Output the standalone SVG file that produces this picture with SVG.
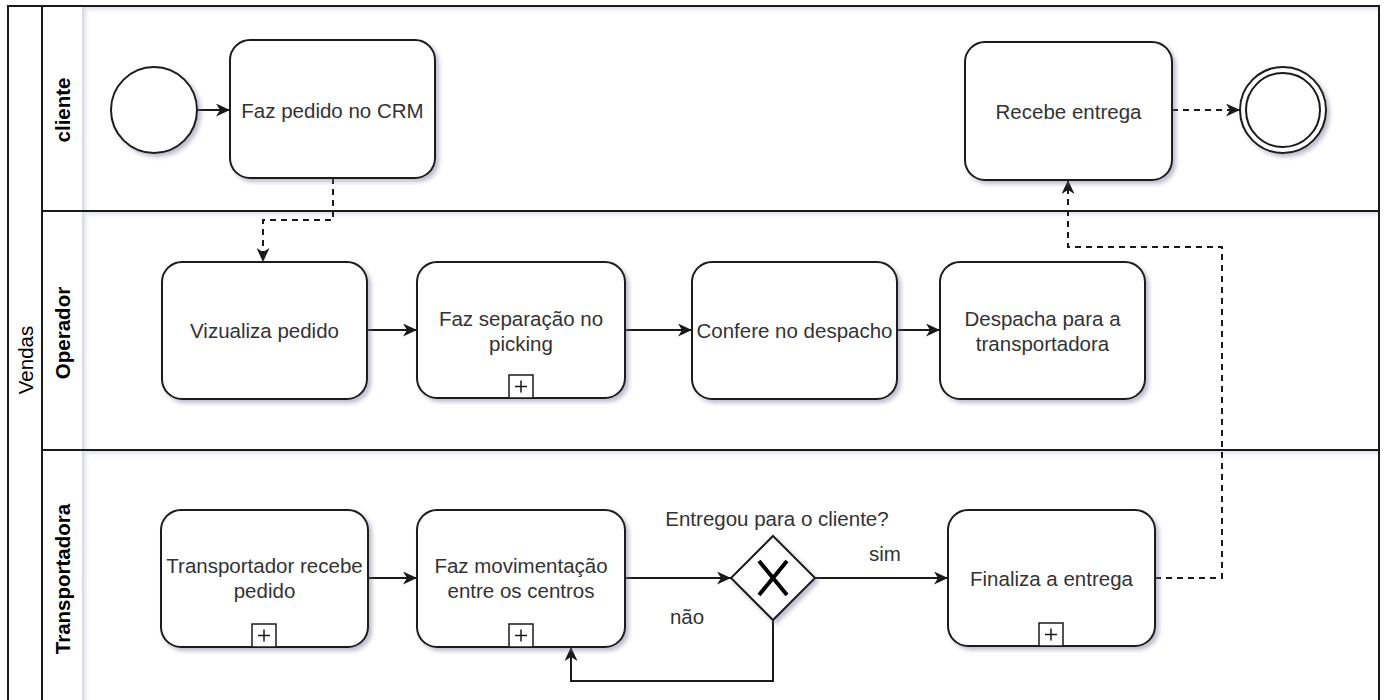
<svg xmlns="http://www.w3.org/2000/svg" width="1384" height="700" viewBox="0 0 1384 700">
  <style>
    .task { fill: #ffffff; stroke: #1a1a1a; stroke-width: 2; filter: url(#shadow); }
    .txt { font-family: "Liberation Sans", Arial, sans-serif; font-size: 20.5px; fill: #333333; text-anchor: middle; dominant-baseline: central; }
    .lbl { font-family: "Liberation Sans", Arial, sans-serif; font-size: 20.5px; fill: #000000; text-anchor: middle; dominant-baseline: central; }
    .bold { font-weight: bold; }
    .flow { fill: none; stroke: #1a1a1a; stroke-width: 2; }
    .dashed { stroke-dasharray: 6 5; }
    .sep { stroke: #1a1a1a; stroke-width: 2; fill: none; }
    .marker { fill: #ffffff; stroke: #1a1a1a; stroke-width: 1.5; }
  </style>
  <defs>
    <filter id="shadow" x="-10%" y="-10%" width="130%" height="130%">
      <feDropShadow dx="3" dy="3" stdDeviation="2.2" flood-color="#6a6a90" flood-opacity="0.45"/>
    </filter>
    <linearGradient id="vshade" x1="0" y1="0" x2="1" y2="0">
      <stop offset="0" stop-color="#cfd1e2"/>
      <stop offset="1" stop-color="#ffffff" stop-opacity="0"/>
    </linearGradient>
    <linearGradient id="hshade" x1="0" y1="0" x2="0" y2="1">
      <stop offset="0" stop-color="#dcdeea"/>
      <stop offset="1" stop-color="#ffffff" stop-opacity="0"/>
    </linearGradient>
    <marker id="arrow" markerUnits="userSpaceOnUse" markerWidth="15" markerHeight="13" refX="14" refY="6.5" orient="auto">
      <path d="M0,0 L14,6.5 L0,13 L4,6.5 Z" fill="#1a1a1a"/>
    </marker>
  </defs>

  <rect x="0" y="0" width="1384" height="700" fill="#ffffff"/>

  <g id="pool">
    <rect x="8" y="6" width="1371" height="704" fill="#ffffff" stroke="#1a1a1a" stroke-width="2"/>
    <rect x="84" y="7" width="1294" height="8" fill="url(#hshade)"/>
    <rect x="84" y="212" width="1294" height="8" fill="url(#hshade)"/>
    <rect x="84" y="451" width="1294" height="8" fill="url(#hshade)"/>
    <rect x="82" y="7" width="9" height="700" fill="url(#vshade)"/>
    <line class="sep" x1="42" y1="6" x2="42" y2="710"/>
    <line class="sep" x1="42" y1="211" x2="1379" y2="211"/>
    <line class="sep" x1="42" y1="450" x2="1379" y2="450"/>
    <text class="lbl" transform="translate(25,360) rotate(-90)">Vendas</text>
  </g>

  <g id="lane-cliente">
    <text class="lbl bold" transform="translate(62,110) rotate(-90)">cliente</text>
  </g>
  <g id="lane-operador">
    <text class="lbl bold" transform="translate(62,333) rotate(-90)">Operador</text>
  </g>
  <g id="lane-transportadora">
    <text class="lbl bold" transform="translate(62,579) rotate(-90)">Transportadora</text>
  </g>

  <g id="connectors">
    <line class="flow" x1="197" y1="110" x2="230" y2="110" marker-end="url(#arrow)"/>
    <polyline class="flow dashed" points="333,178 333,220 263,220 263,262" marker-end="url(#arrow)"/>
    <line class="flow dashed" x1="1172" y1="110" x2="1240" y2="110" marker-end="url(#arrow)"/>
    <line class="flow" x1="367" y1="330" x2="417" y2="330" marker-end="url(#arrow)"/>
    <line class="flow" x1="625" y1="330" x2="692" y2="330" marker-end="url(#arrow)"/>
    <line class="flow" x1="897" y1="330" x2="940" y2="330" marker-end="url(#arrow)"/>
    <line class="flow" x1="368" y1="578" x2="417" y2="578" marker-end="url(#arrow)"/>
    <line class="flow" x1="625" y1="578" x2="731" y2="578" marker-end="url(#arrow)"/>
    <line class="flow" x1="815" y1="578" x2="948" y2="578" marker-end="url(#arrow)"/>
    <polyline class="flow" points="773,620 773,681 571,681 571,647" marker-end="url(#arrow)"/>
    <polyline class="flow dashed" points="1155,578 1222,578 1222,247 1068,247 1068,180" marker-end="url(#arrow)"/>
    <text class="txt" x="885" y="553">sim</text>
    <text class="txt" x="687" y="616">não</text>
  </g>

  <g id="start">
    <circle cx="154" cy="110" r="43" fill="#ffffff" stroke="#1a1a1a" stroke-width="2" filter="url(#shadow)"/>
  </g>

  <g id="faz-pedido">
    <rect class="task" x="230" y="40" width="205" height="138" rx="20"/>
    <text class="txt" x="332.5" y="110">Faz pedido no CRM</text>
  </g>

  <g id="recebe-entrega">
    <rect class="task" x="965" y="42" width="207" height="138" rx="20"/>
    <text class="txt" x="1068.5" y="111">Recebe entrega</text>
  </g>

  <g id="end">
    <circle cx="1283" cy="110" r="43" fill="#ffffff" stroke="#1a1a1a" stroke-width="2" filter="url(#shadow)"/>
    <circle cx="1283" cy="110" r="37" fill="#ffffff" stroke="#1a1a1a" stroke-width="2"/>
  </g>

  <g id="vizualiza">
    <rect class="task" x="162" y="262" width="205" height="137" rx="20"/>
    <text class="txt" x="264.5" y="330">Vizualiza pedido</text>
  </g>

  <g id="separacao">
    <rect class="task" x="417" y="262" width="208" height="136" rx="20"/>
    <text class="txt" x="521" y="318">Faz separação no</text>
    <text class="txt" x="521" y="343">picking</text>
    <rect class="marker" x="509" y="375" width="24" height="23"/>
    <path d="M515,386.5 H527 M521,380.5 V392.5" stroke="#1a1a1a" stroke-width="1.5"/>
  </g>

  <g id="confere">
    <rect class="task" x="692" y="262" width="205" height="137" rx="20"/>
    <text class="txt" x="794.5" y="330">Confere no despacho</text>
  </g>

  <g id="despacha">
    <rect class="task" x="940" y="262" width="205" height="137" rx="20"/>
    <text class="txt" x="1042.5" y="318">Despacha para a</text>
    <text class="txt" x="1042.5" y="343">transportadora</text>
  </g>

  <g id="transportador">
    <rect class="task" x="161" y="510" width="207" height="137" rx="20"/>
    <text class="txt" x="264.5" y="565">Transportador recebe</text>
    <text class="txt" x="264.5" y="590">pedido</text>
    <rect class="marker" x="252" y="624" width="24" height="23"/>
    <path d="M258,635.5 H270 M264,629.5 V641.5" stroke="#1a1a1a" stroke-width="1.5"/>
  </g>

  <g id="movimentacao">
    <rect class="task" x="417" y="510" width="208" height="137" rx="20"/>
    <text class="txt" x="521" y="565">Faz movimentação</text>
    <text class="txt" x="521" y="590">entre os centros</text>
    <rect class="marker" x="509" y="624" width="24" height="23"/>
    <path d="M515,635.5 H527 M521,629.5 V641.5" stroke="#1a1a1a" stroke-width="1.5"/>
  </g>

  <g id="gateway">
    <polygon points="773,536 815,578 773,620 731,578" fill="#ffffff" stroke="#1a1a1a" stroke-width="2" filter="url(#shadow)"/>
    <path d="M759,561 L787,595 M787,561 L759,595" stroke="#000000" stroke-width="4"/>
    <text class="txt" x="777" y="518">Entregou para o cliente?</text>
  </g>

  <g id="finaliza">
    <rect class="task" x="948" y="510" width="207" height="136" rx="20"/>
    <text class="txt" x="1051.5" y="578">Finaliza a entrega</text>
    <rect class="marker" x="1039" y="623" width="24" height="23"/>
    <path d="M1045,634.5 H1057 M1051,628.5 V640.5" stroke="#1a1a1a" stroke-width="1.5"/>
  </g>
</svg>
